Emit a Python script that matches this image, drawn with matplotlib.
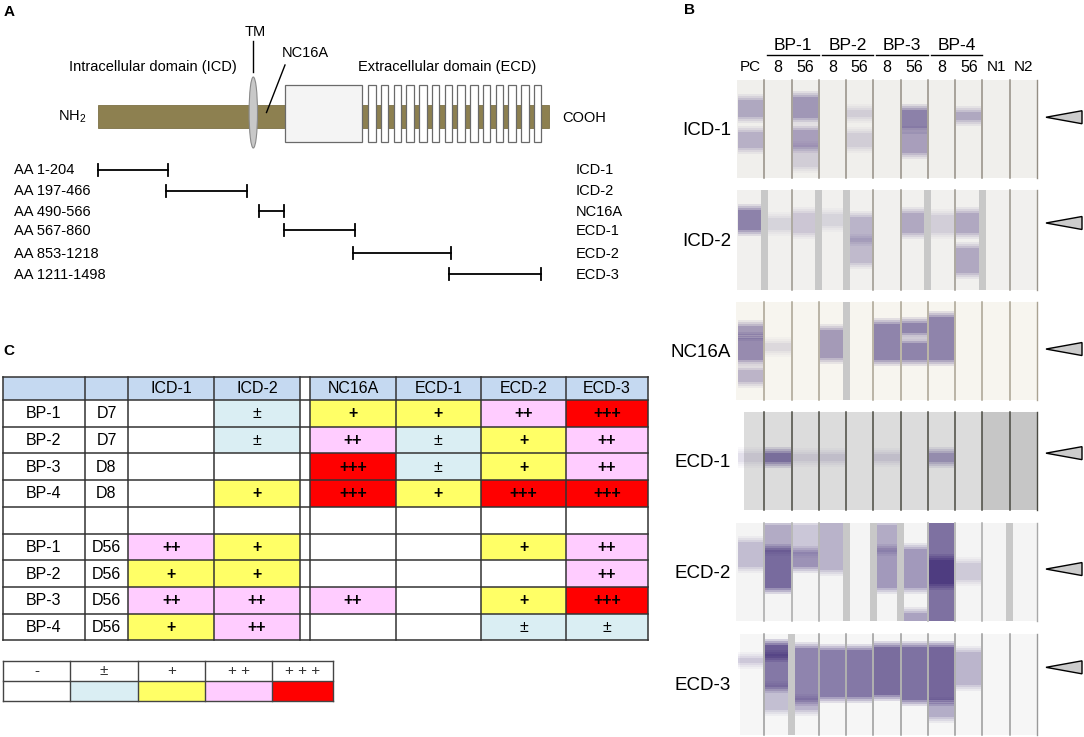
import matplotlib
matplotlib.use('Agg')
import matplotlib.pyplot as plt
from matplotlib.patches import Rectangle, Ellipse, Polygon
import numpy as np

plt.rcParams['font.family'] = ['Liberation Sans', 'DejaVu Sans']
plt.rcParams['mathtext.fontset'] = 'custom'
plt.rcParams['mathtext.rm'] = 'Liberation Sans'

# ---------------- panel A: BP180 fragments
fragments = ['ICD-1', 'ICD-2', 'NC16A', 'ECD-1', 'ECD-2', 'ECD-3']
frag_start = [1, 197, 490, 567, 853, 1211]
frag_end = [204, 466, 566, 860, 1218, 1498]
# schematic is not to scale: residue landmarks -> drawn position
aa_marks = [1, 204, 466, 490, 566, 860, 1218, 1498]
px_marks = [98, 168, 247, 259, 284, 355, 451, 541]
n_repeats = 14

# ---------------- panel C: reactivity table
patients = ['BP-1', 'BP-2', 'BP-3', 'BP-4']
days_early = ['D7', 'D7', 'D8', 'D8']
days_late = ['D56', 'D56', 'D56', 'D56']
scores_early = [
    ['-', '±', '+', '+', '++', '+++'],
    ['-', '±', '++', '±', '+', '++'],
    ['-', '-', '+++', '±', '+', '++'],
    ['-', '+', '+++', '+', '+++', '+++'],
]
scores_late = [
    ['++', '+', '-', '-', '+', '++'],
    ['+', '+', '-', '-', '-', '++'],
    ['++', '++', '++', '-', '+', '+++'],
    ['+', '++', '-', '-', '±', '±'],
]
levels = ['-', '±', '+', '++', '+++']
level_labels = ['-', '±', '+', '+ +', '+ + +']
level_colors = ['#ffffff', '#daeef3', '#ffff66', '#ffccff', '#ff0000']

# ---------------- panel B: immunoblot strips
lanes = ['PC', '8', '56', '8', '56', '8', '56', '8', '56', 'N1', 'N2']
groups = ['BP-1', 'BP-2', 'BP-3', 'BP-4']
blots = ['ICD-1', 'ICD-2', 'NC16A', 'ECD-1', 'ECD-2', 'ECD-3']
# bands: (lane, top, bottom, intensity), top/bottom as fraction of strip length
bands = {
    'ICD-1': [(0, .20, .38, .35), (0, .53, .69, .30), (2, .17, .39, .45), (2, .51, .68, .40),
              (2, .68, .89, .15), (4, .31, .38, .15), (4, .54, .68, .15), (6, .31, .49, .60),
              (6, .53, .74, .40), (8, .33, .41, .35)],
    'ICD-2': [(0, .20, .40, .60), (1, .28, .40, .12), (2, .23, .43, .18), (3, .24, .36, .12),
              (4, .27, .50, .28), (4, .50, .73, .25), (6, .23, .43, .35), (7, .25, .43, .15),
              (8, .23, .43, .35), (8, .58, .83, .35)],
    'NC16A': [(0, .24, .34, .45), (0, .37, .59, .55), (0, .69, .82, .30), (1, .42, .50, .12),
              (3, .29, .57, .45), (5, .22, .59, .60), (6, .21, .32, .60), (6, .42, .59, .60),
              (7, .15, .59, .60)],
    'ECD-1': [(0, .42, .51, .12), (1, .42, .51, .70), (2, .43, .50, .12), (3, .43, .50, .15),
              (5, .43, .50, .15), (7, .42, .51, .45)],
    'ECD-2': [(0, .19, .45, .25), (1, .02, .28, .35), (1, .28, .66, .80), (2, .02, .30, .20),
              (2, .30, .45, .50), (3, .00, .48, .30), (5, .02, .28, .35), (5, .28, .66, .45),
              (6, .27, .66, .45), (6, .92, 1.0, .40), (7, .00, 1.0, .75), (7, .38, .62, .9),
              (8, .41, .58, .18)],
    'ECD-3': [(0, .24, .29, .20), (1, .11, .22, .95), (1, .22, .52, .70), (1, .52, .75, .25),
              (2, .14, .65, .60), (2, .65, .75, .30), (3, .16, .62, .65), (4, .16, .62, .70),
              (5, .13, .60, .80), (6, .13, .65, .75), (7, .13, .65, .85), (7, .68, .82, .35),
              (8, .18, .50, .30)],
}
arrow_pos = [.38, .33, .48, .42, .47, .33]

blot_top = [80, 190, 302, 412, 523, 634]
blot_h = [98, 100, 98, 98, 98, 101]
blot_left = [737, 737, 736, 744, 736, 740]
blot_bg = ['#f0efec', '#f1f0ee', '#f7f5ef', '#dcdcdc', '#f4f4f4', '#f6f6f6']
blot_line = ['#948e84', '#9a958c', '#aaa292', '#4a4a42', '#a8a8a8', '#9a9a9a']
spacers = {'ICD-2': [1, 3, 4, 7, 9], 'NC16A': [4], 'ECD-2': [4, 5, 6, 10], 'ECD-3': [2]}
lane_x0, lane_x1 = 737, 1037
band_color = '#3c2874'

fig = plt.figure(figsize=(10.84, 7.37), dpi=100)
ax = fig.add_axes([0, 0, 1, 1])
ax.set_xlim(0, 1084)
ax.set_ylim(737, 0)
ax.axis('off')

fs = 10.5
# ---------- A
ax.text(4, 12, 'A', fontsize=11, fontweight='bold', va='center')
bar_x0, bar_x1 = px_marks[0], px_marks[-1] + 8
ax.add_patch(Rectangle((bar_x0, 105), bar_x1 - bar_x0, 23, fc='#8d8050', ec='#7d7145', lw=0.6))
ax.add_patch(Rectangle((285, 85), 76.6, 56.7, fc='#f4f4f4', ec='#6a6a6a', lw=0.9))
rep_x = np.linspace(368, 533.8, n_repeats)
for xr in rep_x:
    ax.add_patch(Rectangle((xr, 85), 7.6, 56.7, fc='white', ec='#6a6a6a', lw=0.9))
ax.add_patch(Ellipse((253.3, 112.5), 8.4, 71, fc='#c8c8c8', ec='#8a8a8a', lw=0.8))
ax.plot([252.5, 252.5], [41, 72], color='black', lw=1.0)
ax.plot([285, 266.5], [65, 112.5], color='black', lw=1.0)
ax.text(255.6, 31.7, 'TM', fontsize=fs, ha='center', va='center')
ax.text(305, 52.7, 'NC16A', fontsize=fs, ha='center', va='center')
ax.text(153, 66.7, 'Intracellular domain (ICD)', fontsize=fs, ha='center', va='center')
ax.text(447, 66.7, 'Extracellular domain (ECD)', fontsize=fs, ha='center', va='center')
ax.text(72, 117, r'NH$_2$', fontsize=fs, ha='center', va='center')
ax.text(562.5, 117.5, 'COOH', fontsize=fs, ha='left', va='center')

frag_y = [169.5, 190.5, 211, 230, 253, 274]
xs = np.interp(frag_start, aa_marks, px_marks)
xe = np.interp(frag_end, aa_marks, px_marks)
for i, name in enumerate(fragments):
    y = frag_y[i]
    ax.plot([xs[i], xe[i]], [y, y], color='black', lw=1.3)
    ax.plot([xs[i], xs[i]], [y - 6, y + 6], color='black', lw=1.3)
    ax.plot([xe[i], xe[i]], [y - 6, y + 6], color='black', lw=1.3)
    ax.text(14, y + 0.5, 'AA %d-%d' % (frag_start[i], frag_end[i]), fontsize=fs, va='center')
    ax.text(576, y + 0.5, name, fontsize=fs, va='center')

# ---------- C
ax.text(3.5, 351, 'C', fontsize=11, fontweight='bold', va='center')
col_edges = [2.7, 84.5, 128.4, 214.3, 299.7, 310.2, 395.6, 481, 566, 648]
row_top, head_h, row_h = 376.5, 23.5, 26.7
n_rows = 9
row_edges = [row_top, row_top + head_h] + [row_top + head_h + row_h * (k + 1) for k in range(n_rows)]
data_cols = [2, 3, 5, 6, 7, 8]
gap_col = 4
tfs = 11.5

# header
for c in range(len(col_edges) - 1):
    fc = 'white' if c == gap_col else '#c5d9f1'
    ax.add_patch(Rectangle((col_edges[c], row_edges[0]), col_edges[c + 1] - col_edges[c],
                           head_h, fc=fc, ec='none'))
for j, c in enumerate(data_cols):
    ax.text((col_edges[c] + col_edges[c + 1]) / 2, row_top + head_h / 2 + 0.5, fragments[j],
            fontsize=tfs, ha='center', va='center')

table_rows = []
for p in range(4):
    table_rows.append((patients[p], days_early[p], scores_early[p]))
table_rows.append(None)
for p in range(4):
    table_rows.append((patients[p], days_late[p], scores_late[p]))

for r, row in enumerate(table_rows):
    y0 = row_edges[r + 1]
    yc = y0 + row_h / 2 + 0.5
    if row is None:
        continue
    ax.text((col_edges[0] + col_edges[1]) / 2, yc, row[0], fontsize=tfs, ha='center', va='center')
    ax.text((col_edges[1] + col_edges[2]) / 2, yc, row[1], fontsize=tfs, ha='center', va='center')
    for j, c in enumerate(data_cols):
        s = row[2][j]
        fc = level_colors[levels.index(s)]
        ax.add_patch(Rectangle((col_edges[c], y0), col_edges[c + 1] - col_edges[c], row_h,
                               fc=fc, ec='none'))
        if s != '-':
            ax.text((col_edges[c] + col_edges[c + 1]) / 2, yc, s, fontsize=tfs,
                    ha='center', va='center', fontweight='bold' if s != '±' else 'normal')

line_c = '#333333'
for yl in row_edges:
    ax.plot([col_edges[0], col_edges[-1]], [yl, yl], color=line_c, lw=1.1)
for xl in col_edges:
    ax.plot([xl, xl], [row_edges[0], row_edges[-1]], color=line_c, lw=1.1)

# legend table
leg_edges = [2.9, 70.3, 137.6, 205, 272.3, 332.5]
leg_y = [660.7, 680.7, 700.7]
for k in range(len(levels)):
    ax.add_patch(Rectangle((leg_edges[k], leg_y[1]), leg_edges[k + 1] - leg_edges[k],
                           leg_y[2] - leg_y[1], fc=level_colors[k], ec='none'))
    ax.text((leg_edges[k] + leg_edges[k + 1]) / 2, (leg_y[0] + leg_y[1]) / 2 + 0.5,
            level_labels[k], fontsize=11, ha='center', va='center', color='#333333')
for yl in leg_y:
    ax.plot([leg_edges[0], leg_edges[-1]], [yl, yl], color='#444444', lw=1.0)
for xl in leg_edges:
    ax.plot([xl, xl], [leg_y[0], leg_y[-1]], color='#444444', lw=1.0)

# ---------- B
ax.text(684, 10, 'B', fontsize=11, fontweight='bold', va='center')
lane_w = (lane_x1 - lane_x0) / len(lanes)
lane_c = [lane_x0 + lane_w * (k + 0.5) for k in range(len(lanes))]
for k, lab in enumerate(lanes):
    ax.text(lane_c[k], 67, lab, fontsize=11.5 if lab.isdigit() else 11, ha='center', va='center')
for g, name in enumerate(groups):
    l = lane_x0 + lane_w * (1 + 2 * g)
    r = l + 2 * lane_w
    ax.plot([l + 3, r], [55, 55], color='black', lw=1.0)
    ax.text((l + r) / 2 + 1.5, 45.5, name, fontsize=12.5, ha='center', va='center')

for b, name in enumerate(blots):
    top, h, left = blot_top[b], blot_h[b], blot_left[b]
    ax.add_patch(Rectangle((left, top), lane_x1 - left, h, fc=blot_bg[b], ec='none'))
    if name == 'ECD-1':
        ax.add_patch(Rectangle((lane_x0 + 9 * lane_w, top), 2 * lane_w, h, fc='#c6c6c6', ec='none'))
    for (ln, t0, t1, inten) in bands[name]:
        x = lane_x0 + ln * lane_w
        y0 = top + t0 * h
        y1 = top + t1 * h
        # soft edges: stacked translucent layers
        for pad, frac in [(6, .18), (4, .24), (2, .3), (0, .45)]:
            yy0 = max(top, y0 - pad)
            yy1 = min(top + h, y1 + pad)
            ax.add_patch(Rectangle((x + 1, yy0), lane_w - 2, yy1 - yy0, fc=band_color,
                                   alpha=min(1, inten * frac), lw=0))
    sp = spacers.get(name, [])
    for k in range(1, len(lanes)):
        xb = lane_x0 + k * lane_w
        if k in sp:
            ax.add_patch(Rectangle((xb - 3.5, top), 7, h, fc='#c8c8c8', ec='none'))
        else:
            ax.plot([xb, xb], [top, top + h], color=blot_line[b], lw=1.1)
    ax.plot([lane_x1, lane_x1], [top, top + h], color=blot_line[b], lw=1.0)
    ax.text(731, top + h / 2 + 1, name, fontsize=13.5, ha='right', va='center')
    ya = top + arrow_pos[b] * h
    ax.add_patch(Polygon([[1046, ya], [1082, ya - 6.5], [1082, ya + 6.5]], closed=True,
                         fc='#cccccc', ec='black', lw=1.0))

fig.savefig('out.png', dpi=100)
